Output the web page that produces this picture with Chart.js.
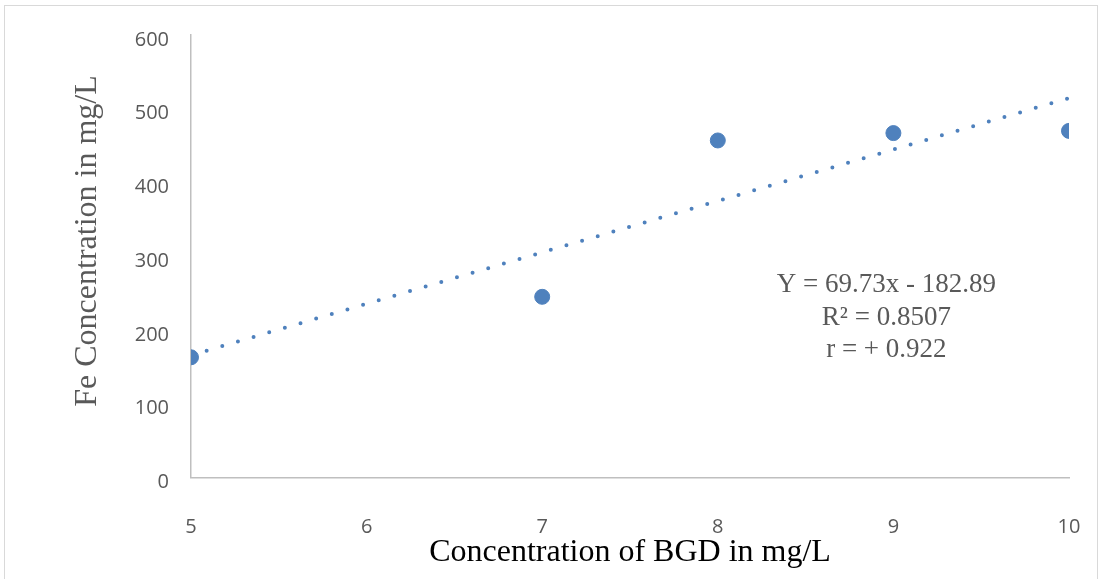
<!DOCTYPE html>
<html>
<head>
<meta charset="utf-8">
<script src="https://cdn.jsdelivr.net/npm/chart.js@4/dist/chart.umd.min.js"></script>
<style>
    html, body { margin: 0; padding: 0; background: #fff; overflow: hidden; }
    #wrap { position: absolute; left: 0; top: 0; width: 1099px; height: 579px; }
    #frame { position: absolute; left: 4px; top: 5px; width: 1092px; height: 590px; border: 1px solid #d9d9d9; }
</style>
</head>
<body>
<div id="frame"></div>
<div id="wrap"><canvas id="chart" width="1099" height="579"></canvas></div>
<script>
// measured points
const bgd = [5, 7, 8, 9, 10];
const fe = [163, 245, 457, 467, 470];

// linear trendline end points (Y = 69.73x - 182.89)
const trendX = [5, 10];
const trendY = [165.8, 514.4];

const xTicks = [5, 6, 7, 8, 9, 10];
const yTicks = [0, 100, 200, 300, 400, 500, 600];

const eqLines = ['Y = 69.73x - 182.89', 'R\u00b2 = 0.8507', 'r = + 0.922'];

const blue = '#4f81bd';
const grey = '#595959';
const serif = '"Liberation Serif", "Times New Roman", serif';

// equation box and the rotated y title
const extraText = {
    id: 'extraText',
    afterDraw(chart) {
        const ctx = chart.ctx;
        const x = chart.scales.x.getPixelForValue(8.96);
        ctx.save();
        ctx.font = '27px ' + serif;
        ctx.fillStyle = grey;
        ctx.textAlign = 'center';
        ctx.textBaseline = 'middle';
        const ys = [285, 318, 350];
        eqLines.forEach((t, i) => ctx.fillText(t, x, ys[i]));

        ctx.translate(88, 241);
        ctx.rotate(-Math.PI / 2);
        ctx.font = '32px ' + serif;
        ctx.fillText('Fe Concentration in mg/L', 0, 0);
        ctx.restore();
    }
};

const ctx = document.querySelector('#chart').getContext('2d');

new Chart(ctx, {
    type: 'scatter',
    data: {
        datasets: [{
            label: 'Fe',
            data: bgd.map((v, i) => ({x: v, y: fe[i]})),
            backgroundColor: blue,
            borderColor: blue,
            pointRadius: 7.5,
            pointHoverRadius: 7.5,
            order: 1
        }, {
            label: 'Trend',
            data: trendX.map((v, i) => ({x: v, y: trendY[i]})),
            showLine: true,
            borderColor: blue,
            borderWidth: 4,
            borderDash: [0, 16.3],
            borderCapStyle: 'round',
            pointRadius: 0,
            fill: false,
            order: 2
        }]
    },
    options: {
        responsive: false,
        animation: false,
        layout: {
            padding: {left: 0, top: 35, right: 30, bottom: 0}
        },
        plugins: {
            legend: {display: false},
            tooltip: {enabled: false}
        },
        scales: {
            x: {
                type: 'linear',
                min: 5,
                max: 10,
                afterBuildTicks: (scale) => { scale.ticks = xTicks.map(v => ({value: v})); },
                afterFit: (scale) => {
                    scale.height = 101.5;
                    scale.paddingLeft = 0;
                    scale.paddingRight = 0;
                },
                grid: {display: false},
                border: {display: true, color: '#bfbfbf', width: 1.5},
                ticks: {
                    padding: 30,
                    color: grey,
                    font: {family: '"Open Sans", sans-serif', size: 20}
                },
                title: {
                    display: true,
                    text: 'Concentration of BGD in mg/L',
                    color: '#000',
                    padding: 7,
                    font: {family: serif, size: 32}
                }
            },
            y: {
                min: 0,
                max: 600,
                afterBuildTicks: (scale) => { scale.ticks = yTicks.map(v => ({value: v})); },
                afterFit: (scale) => { scale.width = 191; },
                grid: {display: false},
                border: {display: true, color: '#bfbfbf', width: 1.5},
                ticks: {
                    padding: 14,
                    labelOffset: 5,
                    color: grey,
                    font: {family: '"Open Sans", sans-serif', size: 20}
                }
            }
        }
    },
    plugins: [extraText]
});
</script>
</body>
</html>
